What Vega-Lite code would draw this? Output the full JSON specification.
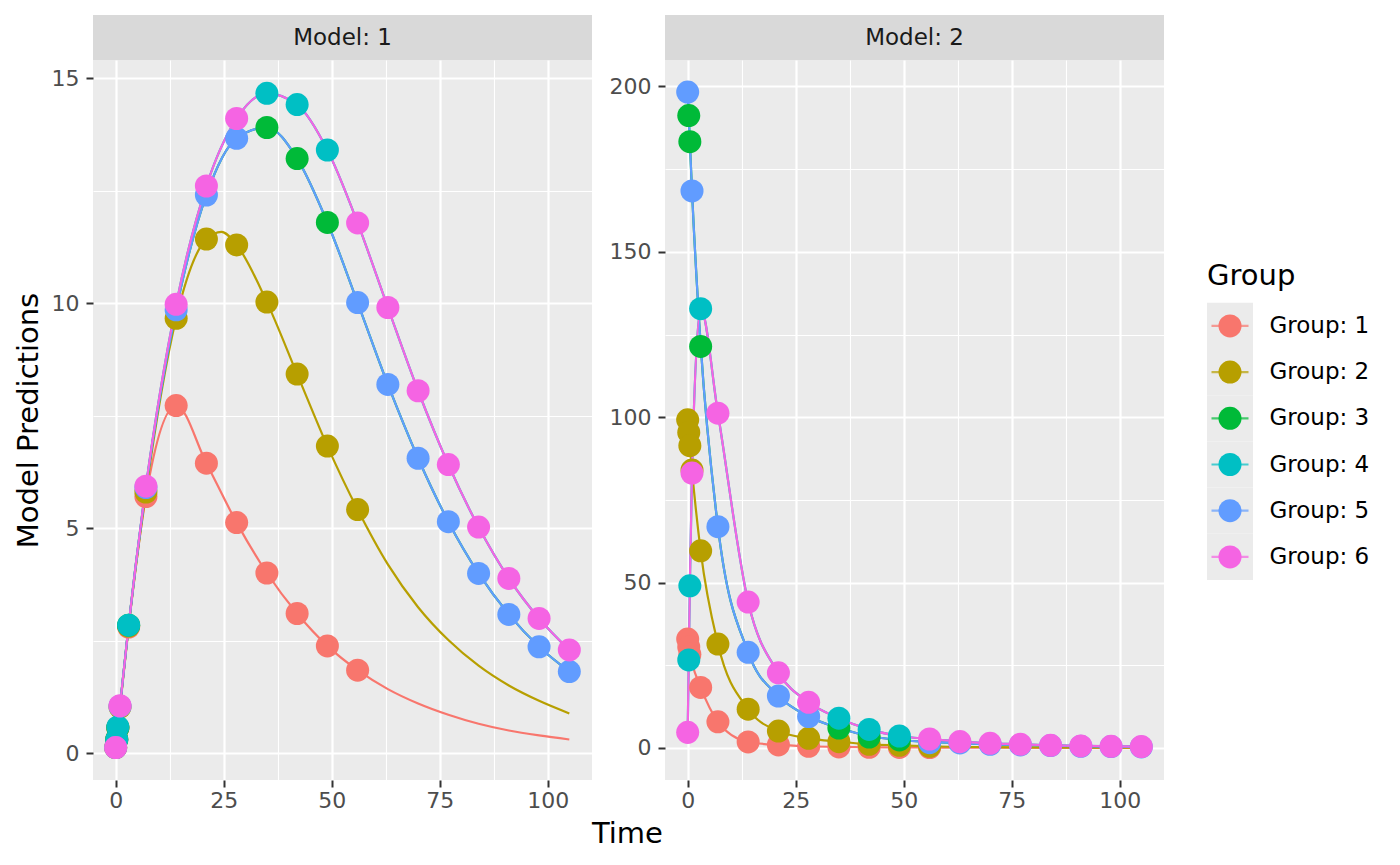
{
  "$schema": "https://vega.github.io/schema/vega-lite/v6.json",
  "padding": {"left": 14, "top": 15, "right": 5, "bottom": 5},
  "background": "white",
  "title": {"text": "Time", "orient": "bottom", "anchor": "middle", "fontSize": 29, "fontWeight": "normal", "color": "#000000", "dx": -64, "offset": 9},
  "datasets": {
    "strips": [{"model": 1, "label": "Model: 1"}, {"model": 2, "label": "Model: 2"}],
    "keys": [
      {"kind": "title", "group": "Group"},
      {"kind": "key", "group": "Group: 1"},
      {"kind": "key", "group": "Group: 2"},
      {"kind": "key", "group": "Group: 3"},
      {"kind": "key", "group": "Group: 4"},
      {"kind": "key", "group": "Group: 5"},
      {"kind": "key", "group": "Group: 6"}
    ],
    "obs": [
      {"model": 1, "group": "Group: 1", "time": 0, "value": 0.12},
      {"model": 1, "group": "Group: 1", "time": 0.25, "value": 0.3},
      {"model": 1, "group": "Group: 1", "time": 0.5, "value": 0.56},
      {"model": 1, "group": "Group: 1", "time": 3, "value": 2.8},
      {"model": 1, "group": "Group: 1", "time": 7, "value": 5.7},
      {"model": 1, "group": "Group: 1", "time": 14, "value": 7.72},
      {"model": 1, "group": "Group: 1", "time": 21, "value": 6.44},
      {"model": 1, "group": "Group: 1", "time": 28, "value": 5.12},
      {"model": 1, "group": "Group: 1", "time": 35, "value": 4.0},
      {"model": 1, "group": "Group: 1", "time": 42, "value": 3.1},
      {"model": 1, "group": "Group: 1", "time": 49, "value": 2.38},
      {"model": 1, "group": "Group: 1", "time": 56, "value": 1.84},
      {"model": 1, "group": "Group: 2", "time": 0, "value": 0.12},
      {"model": 1, "group": "Group: 2", "time": 0.25, "value": 0.3},
      {"model": 1, "group": "Group: 2", "time": 0.5, "value": 0.56},
      {"model": 1, "group": "Group: 2", "time": 1, "value": 1.02},
      {"model": 1, "group": "Group: 2", "time": 3, "value": 2.82},
      {"model": 1, "group": "Group: 2", "time": 7, "value": 5.8},
      {"model": 1, "group": "Group: 2", "time": 14, "value": 9.66},
      {"model": 1, "group": "Group: 2", "time": 21, "value": 11.42},
      {"model": 1, "group": "Group: 2", "time": 28, "value": 11.29},
      {"model": 1, "group": "Group: 2", "time": 35, "value": 10.02},
      {"model": 1, "group": "Group: 2", "time": 42, "value": 8.42},
      {"model": 1, "group": "Group: 2", "time": 49, "value": 6.82},
      {"model": 1, "group": "Group: 2", "time": 56, "value": 5.41},
      {"model": 1, "group": "Group: 3", "time": 0.25, "value": 0.3},
      {"model": 1, "group": "Group: 3", "time": 0.5, "value": 0.56},
      {"model": 1, "group": "Group: 3", "time": 3, "value": 2.84},
      {"model": 1, "group": "Group: 3", "time": 35, "value": 13.9},
      {"model": 1, "group": "Group: 3", "time": 42, "value": 13.21},
      {"model": 1, "group": "Group: 3", "time": 49, "value": 11.79},
      {"model": 1, "group": "Group: 4", "time": 0.25, "value": 0.3},
      {"model": 1, "group": "Group: 4", "time": 0.5, "value": 0.58},
      {"model": 1, "group": "Group: 4", "time": 3, "value": 2.84},
      {"model": 1, "group": "Group: 4", "time": 35, "value": 14.66},
      {"model": 1, "group": "Group: 4", "time": 42, "value": 14.41},
      {"model": 1, "group": "Group: 4", "time": 49, "value": 13.4},
      {"model": 1, "group": "Group: 5", "time": 0, "value": 0.12},
      {"model": 1, "group": "Group: 5", "time": 1, "value": 1.04},
      {"model": 1, "group": "Group: 5", "time": 7, "value": 5.9},
      {"model": 1, "group": "Group: 5", "time": 14, "value": 9.85},
      {"model": 1, "group": "Group: 5", "time": 21, "value": 12.4},
      {"model": 1, "group": "Group: 5", "time": 28, "value": 13.66},
      {"model": 1, "group": "Group: 5", "time": 56, "value": 10.01},
      {"model": 1, "group": "Group: 5", "time": 63, "value": 8.19},
      {"model": 1, "group": "Group: 5", "time": 70, "value": 6.55},
      {"model": 1, "group": "Group: 5", "time": 77, "value": 5.14},
      {"model": 1, "group": "Group: 5", "time": 84, "value": 3.99},
      {"model": 1, "group": "Group: 5", "time": 91, "value": 3.08},
      {"model": 1, "group": "Group: 5", "time": 98, "value": 2.36},
      {"model": 1, "group": "Group: 5", "time": 105, "value": 1.81},
      {"model": 1, "group": "Group: 6", "time": 0, "value": 0.12},
      {"model": 1, "group": "Group: 6", "time": 1, "value": 1.05},
      {"model": 1, "group": "Group: 6", "time": 7, "value": 5.93},
      {"model": 1, "group": "Group: 6", "time": 14, "value": 9.97},
      {"model": 1, "group": "Group: 6", "time": 21, "value": 12.6},
      {"model": 1, "group": "Group: 6", "time": 28, "value": 14.1},
      {"model": 1, "group": "Group: 6", "time": 56, "value": 11.78},
      {"model": 1, "group": "Group: 6", "time": 63, "value": 9.9},
      {"model": 1, "group": "Group: 6", "time": 70, "value": 8.05},
      {"model": 1, "group": "Group: 6", "time": 77, "value": 6.41},
      {"model": 1, "group": "Group: 6", "time": 84, "value": 5.02},
      {"model": 1, "group": "Group: 6", "time": 91, "value": 3.88},
      {"model": 1, "group": "Group: 6", "time": 98, "value": 2.99},
      {"model": 1, "group": "Group: 6", "time": 105, "value": 2.29},
      {"model": 2, "group": "Group: 1", "time": 0, "value": 32.9},
      {"model": 2, "group": "Group: 1", "time": 0.25, "value": 30.5},
      {"model": 2, "group": "Group: 1", "time": 0.5, "value": 28.3},
      {"model": 2, "group": "Group: 1", "time": 3, "value": 18.3},
      {"model": 2, "group": "Group: 1", "time": 7, "value": 7.9},
      {"model": 2, "group": "Group: 1", "time": 14, "value": 1.8},
      {"model": 2, "group": "Group: 1", "time": 21, "value": 0.9},
      {"model": 2, "group": "Group: 1", "time": 28, "value": 0.5},
      {"model": 2, "group": "Group: 1", "time": 35, "value": 0.3},
      {"model": 2, "group": "Group: 1", "time": 42, "value": 0.2},
      {"model": 2, "group": "Group: 1", "time": 49, "value": 0.15},
      {"model": 2, "group": "Group: 1", "time": 56, "value": 0.1},
      {"model": 2, "group": "Group: 2", "time": 0, "value": 99.2},
      {"model": 2, "group": "Group: 2", "time": 0.25, "value": 95.4},
      {"model": 2, "group": "Group: 2", "time": 0.5, "value": 91.4},
      {"model": 2, "group": "Group: 2", "time": 1, "value": 84.0},
      {"model": 2, "group": "Group: 2", "time": 3, "value": 59.6},
      {"model": 2, "group": "Group: 2", "time": 7, "value": 31.4},
      {"model": 2, "group": "Group: 2", "time": 14, "value": 11.7},
      {"model": 2, "group": "Group: 2", "time": 21, "value": 5.1},
      {"model": 2, "group": "Group: 2", "time": 28, "value": 2.9},
      {"model": 2, "group": "Group: 2", "time": 35, "value": 1.9},
      {"model": 2, "group": "Group: 2", "time": 42, "value": 1.1},
      {"model": 2, "group": "Group: 2", "time": 49, "value": 0.8},
      {"model": 2, "group": "Group: 2", "time": 56, "value": 0.5},
      {"model": 2, "group": "Group: 3", "time": 0.25, "value": 191.2},
      {"model": 2, "group": "Group: 3", "time": 0.5, "value": 183.3},
      {"model": 2, "group": "Group: 3", "time": 3, "value": 121.4},
      {"model": 2, "group": "Group: 3", "time": 35, "value": 6.0},
      {"model": 2, "group": "Group: 3", "time": 42, "value": 3.3},
      {"model": 2, "group": "Group: 3", "time": 49, "value": 2.4},
      {"model": 2, "group": "Group: 4", "time": 0.25, "value": 26.6},
      {"model": 2, "group": "Group: 4", "time": 0.5, "value": 49.0},
      {"model": 2, "group": "Group: 4", "time": 3, "value": 132.8},
      {"model": 2, "group": "Group: 4", "time": 35, "value": 9.0},
      {"model": 2, "group": "Group: 4", "time": 42, "value": 5.6},
      {"model": 2, "group": "Group: 4", "time": 49, "value": 3.6},
      {"model": 2, "group": "Group: 5", "time": 0, "value": 198.3},
      {"model": 2, "group": "Group: 5", "time": 1, "value": 168.4},
      {"model": 2, "group": "Group: 5", "time": 7, "value": 66.9},
      {"model": 2, "group": "Group: 5", "time": 14, "value": 28.9},
      {"model": 2, "group": "Group: 5", "time": 21, "value": 15.7},
      {"model": 2, "group": "Group: 5", "time": 28, "value": 9.5},
      {"model": 2, "group": "Group: 5", "time": 56, "value": 1.6},
      {"model": 2, "group": "Group: 5", "time": 63, "value": 1.5},
      {"model": 2, "group": "Group: 5", "time": 70, "value": 1.1},
      {"model": 2, "group": "Group: 5", "time": 77, "value": 0.9},
      {"model": 2, "group": "Group: 5", "time": 84, "value": 0.7},
      {"model": 2, "group": "Group: 5", "time": 91, "value": 0.5},
      {"model": 2, "group": "Group: 5", "time": 98, "value": 0.4},
      {"model": 2, "group": "Group: 5", "time": 105, "value": 0.3},
      {"model": 2, "group": "Group: 6", "time": 0, "value": 4.7},
      {"model": 2, "group": "Group: 6", "time": 1, "value": 83.1},
      {"model": 2, "group": "Group: 6", "time": 7, "value": 101.2},
      {"model": 2, "group": "Group: 6", "time": 14, "value": 44.1},
      {"model": 2, "group": "Group: 6", "time": 21, "value": 22.7},
      {"model": 2, "group": "Group: 6", "time": 28, "value": 13.8},
      {"model": 2, "group": "Group: 6", "time": 56, "value": 2.7},
      {"model": 2, "group": "Group: 6", "time": 63, "value": 1.9},
      {"model": 2, "group": "Group: 6", "time": 70, "value": 1.4},
      {"model": 2, "group": "Group: 6", "time": 77, "value": 1.1},
      {"model": 2, "group": "Group: 6", "time": 84, "value": 0.8},
      {"model": 2, "group": "Group: 6", "time": 91, "value": 0.6},
      {"model": 2, "group": "Group: 6", "time": 98, "value": 0.5},
      {"model": 2, "group": "Group: 6", "time": 105, "value": 0.4}
    ],
    "pred": [
      {"model": 1, "group": "Group: 1", "time": 0, "value": 0.12},
      {"model": 1, "group": "Group: 1", "time": 1, "value": 1.0},
      {"model": 1, "group": "Group: 1", "time": 3, "value": 2.8},
      {"model": 1, "group": "Group: 1", "time": 7, "value": 5.7},
      {"model": 1, "group": "Group: 1", "time": 14, "value": 7.72},
      {"model": 1, "group": "Group: 1", "time": 21, "value": 6.44},
      {"model": 1, "group": "Group: 1", "time": 28, "value": 5.12},
      {"model": 1, "group": "Group: 1", "time": 35, "value": 4.0},
      {"model": 1, "group": "Group: 1", "time": 42, "value": 3.1},
      {"model": 1, "group": "Group: 1", "time": 49, "value": 2.38},
      {"model": 1, "group": "Group: 1", "time": 56, "value": 1.84},
      {"model": 1, "group": "Group: 1", "time": 63, "value": 1.42},
      {"model": 1, "group": "Group: 1", "time": 70, "value": 1.1},
      {"model": 1, "group": "Group: 1", "time": 77, "value": 0.85},
      {"model": 1, "group": "Group: 1", "time": 84, "value": 0.65},
      {"model": 1, "group": "Group: 1", "time": 91, "value": 0.5},
      {"model": 1, "group": "Group: 1", "time": 98, "value": 0.39},
      {"model": 1, "group": "Group: 1", "time": 105, "value": 0.3},
      {"model": 1, "group": "Group: 2", "time": 0, "value": 0.12},
      {"model": 1, "group": "Group: 2", "time": 1, "value": 1.02},
      {"model": 1, "group": "Group: 2", "time": 3, "value": 2.82},
      {"model": 1, "group": "Group: 2", "time": 7, "value": 5.8},
      {"model": 1, "group": "Group: 2", "time": 14, "value": 9.66},
      {"model": 1, "group": "Group: 2", "time": 21, "value": 11.42},
      {"model": 1, "group": "Group: 2", "time": 24.5, "value": 11.58},
      {"model": 1, "group": "Group: 2", "time": 28, "value": 11.29},
      {"model": 1, "group": "Group: 2", "time": 35, "value": 10.02},
      {"model": 1, "group": "Group: 2", "time": 42, "value": 8.42},
      {"model": 1, "group": "Group: 2", "time": 49, "value": 6.82},
      {"model": 1, "group": "Group: 2", "time": 56, "value": 5.41},
      {"model": 1, "group": "Group: 2", "time": 63, "value": 4.19},
      {"model": 1, "group": "Group: 2", "time": 70, "value": 3.24},
      {"model": 1, "group": "Group: 2", "time": 77, "value": 2.51},
      {"model": 1, "group": "Group: 2", "time": 84, "value": 1.94},
      {"model": 1, "group": "Group: 2", "time": 91, "value": 1.5},
      {"model": 1, "group": "Group: 2", "time": 98, "value": 1.16},
      {"model": 1, "group": "Group: 2", "time": 105, "value": 0.88},
      {"model": 1, "group": "Group: 3", "time": 0, "value": 0.12},
      {"model": 1, "group": "Group: 3", "time": 1, "value": 1.04},
      {"model": 1, "group": "Group: 3", "time": 3, "value": 2.84},
      {"model": 1, "group": "Group: 3", "time": 7, "value": 5.9},
      {"model": 1, "group": "Group: 3", "time": 14, "value": 9.85},
      {"model": 1, "group": "Group: 3", "time": 21, "value": 12.4},
      {"model": 1, "group": "Group: 3", "time": 28, "value": 13.66},
      {"model": 1, "group": "Group: 3", "time": 35, "value": 13.9},
      {"model": 1, "group": "Group: 3", "time": 42, "value": 13.21},
      {"model": 1, "group": "Group: 3", "time": 49, "value": 11.79},
      {"model": 1, "group": "Group: 3", "time": 56, "value": 10.01},
      {"model": 1, "group": "Group: 3", "time": 63, "value": 8.19},
      {"model": 1, "group": "Group: 3", "time": 70, "value": 6.55},
      {"model": 1, "group": "Group: 3", "time": 77, "value": 5.14},
      {"model": 1, "group": "Group: 3", "time": 84, "value": 3.99},
      {"model": 1, "group": "Group: 3", "time": 91, "value": 3.08},
      {"model": 1, "group": "Group: 3", "time": 98, "value": 2.36},
      {"model": 1, "group": "Group: 3", "time": 105, "value": 1.81},
      {"model": 1, "group": "Group: 4", "time": 0, "value": 0.12},
      {"model": 1, "group": "Group: 4", "time": 1, "value": 1.05},
      {"model": 1, "group": "Group: 4", "time": 3, "value": 2.84},
      {"model": 1, "group": "Group: 4", "time": 7, "value": 5.93},
      {"model": 1, "group": "Group: 4", "time": 14, "value": 9.97},
      {"model": 1, "group": "Group: 4", "time": 21, "value": 12.6},
      {"model": 1, "group": "Group: 4", "time": 28, "value": 14.1},
      {"model": 1, "group": "Group: 4", "time": 35, "value": 14.66},
      {"model": 1, "group": "Group: 4", "time": 42, "value": 14.41},
      {"model": 1, "group": "Group: 4", "time": 49, "value": 13.4},
      {"model": 1, "group": "Group: 4", "time": 56, "value": 11.78},
      {"model": 1, "group": "Group: 4", "time": 63, "value": 9.9},
      {"model": 1, "group": "Group: 4", "time": 70, "value": 8.05},
      {"model": 1, "group": "Group: 4", "time": 77, "value": 6.41},
      {"model": 1, "group": "Group: 4", "time": 84, "value": 5.02},
      {"model": 1, "group": "Group: 4", "time": 91, "value": 3.88},
      {"model": 1, "group": "Group: 4", "time": 98, "value": 2.99},
      {"model": 1, "group": "Group: 4", "time": 105, "value": 2.29},
      {"model": 1, "group": "Group: 5", "time": 0, "value": 0.12},
      {"model": 1, "group": "Group: 5", "time": 1, "value": 1.04},
      {"model": 1, "group": "Group: 5", "time": 3, "value": 2.84},
      {"model": 1, "group": "Group: 5", "time": 7, "value": 5.9},
      {"model": 1, "group": "Group: 5", "time": 14, "value": 9.85},
      {"model": 1, "group": "Group: 5", "time": 21, "value": 12.4},
      {"model": 1, "group": "Group: 5", "time": 28, "value": 13.66},
      {"model": 1, "group": "Group: 5", "time": 35, "value": 13.9},
      {"model": 1, "group": "Group: 5", "time": 42, "value": 13.21},
      {"model": 1, "group": "Group: 5", "time": 49, "value": 11.79},
      {"model": 1, "group": "Group: 5", "time": 56, "value": 10.01},
      {"model": 1, "group": "Group: 5", "time": 63, "value": 8.19},
      {"model": 1, "group": "Group: 5", "time": 70, "value": 6.55},
      {"model": 1, "group": "Group: 5", "time": 77, "value": 5.14},
      {"model": 1, "group": "Group: 5", "time": 84, "value": 3.99},
      {"model": 1, "group": "Group: 5", "time": 91, "value": 3.08},
      {"model": 1, "group": "Group: 5", "time": 98, "value": 2.36},
      {"model": 1, "group": "Group: 5", "time": 105, "value": 1.81},
      {"model": 1, "group": "Group: 6", "time": 0, "value": 0.12},
      {"model": 1, "group": "Group: 6", "time": 1, "value": 1.05},
      {"model": 1, "group": "Group: 6", "time": 3, "value": 2.84},
      {"model": 1, "group": "Group: 6", "time": 7, "value": 5.93},
      {"model": 1, "group": "Group: 6", "time": 14, "value": 9.97},
      {"model": 1, "group": "Group: 6", "time": 21, "value": 12.6},
      {"model": 1, "group": "Group: 6", "time": 28, "value": 14.1},
      {"model": 1, "group": "Group: 6", "time": 35, "value": 14.66},
      {"model": 1, "group": "Group: 6", "time": 42, "value": 14.41},
      {"model": 1, "group": "Group: 6", "time": 49, "value": 13.4},
      {"model": 1, "group": "Group: 6", "time": 56, "value": 11.78},
      {"model": 1, "group": "Group: 6", "time": 63, "value": 9.9},
      {"model": 1, "group": "Group: 6", "time": 70, "value": 8.05},
      {"model": 1, "group": "Group: 6", "time": 77, "value": 6.41},
      {"model": 1, "group": "Group: 6", "time": 84, "value": 5.02},
      {"model": 1, "group": "Group: 6", "time": 91, "value": 3.88},
      {"model": 1, "group": "Group: 6", "time": 98, "value": 2.99},
      {"model": 1, "group": "Group: 6", "time": 105, "value": 2.29},
      {"model": 2, "group": "Group: 1", "time": 0, "value": 32.9},
      {"model": 2, "group": "Group: 1", "time": 0.25, "value": 30.5},
      {"model": 2, "group": "Group: 1", "time": 0.5, "value": 28.3},
      {"model": 2, "group": "Group: 1", "time": 1, "value": 25.6},
      {"model": 2, "group": "Group: 1", "time": 3, "value": 18.3},
      {"model": 2, "group": "Group: 1", "time": 7, "value": 7.9},
      {"model": 2, "group": "Group: 1", "time": 14, "value": 1.8},
      {"model": 2, "group": "Group: 1", "time": 21, "value": 0.9},
      {"model": 2, "group": "Group: 1", "time": 28, "value": 0.5},
      {"model": 2, "group": "Group: 1", "time": 35, "value": 0.3},
      {"model": 2, "group": "Group: 1", "time": 42, "value": 0.2},
      {"model": 2, "group": "Group: 1", "time": 49, "value": 0.15},
      {"model": 2, "group": "Group: 1", "time": 56, "value": 0.1},
      {"model": 2, "group": "Group: 1", "time": 70, "value": 0.06},
      {"model": 2, "group": "Group: 1", "time": 84, "value": 0.04},
      {"model": 2, "group": "Group: 1", "time": 105, "value": 0.02},
      {"model": 2, "group": "Group: 2", "time": 0, "value": 99.2},
      {"model": 2, "group": "Group: 2", "time": 0.25, "value": 95.4},
      {"model": 2, "group": "Group: 2", "time": 0.5, "value": 91.4},
      {"model": 2, "group": "Group: 2", "time": 1, "value": 84.0},
      {"model": 2, "group": "Group: 2", "time": 3, "value": 59.6},
      {"model": 2, "group": "Group: 2", "time": 7, "value": 31.4},
      {"model": 2, "group": "Group: 2", "time": 14, "value": 11.7},
      {"model": 2, "group": "Group: 2", "time": 21, "value": 5.1},
      {"model": 2, "group": "Group: 2", "time": 28, "value": 2.9},
      {"model": 2, "group": "Group: 2", "time": 35, "value": 1.9},
      {"model": 2, "group": "Group: 2", "time": 42, "value": 1.1},
      {"model": 2, "group": "Group: 2", "time": 49, "value": 0.8},
      {"model": 2, "group": "Group: 2", "time": 56, "value": 0.5},
      {"model": 2, "group": "Group: 2", "time": 70, "value": 0.25},
      {"model": 2, "group": "Group: 2", "time": 84, "value": 0.13},
      {"model": 2, "group": "Group: 2", "time": 105, "value": 0.05},
      {"model": 2, "group": "Group: 3", "time": 0, "value": 198.3},
      {"model": 2, "group": "Group: 3", "time": 0.25, "value": 191.2},
      {"model": 2, "group": "Group: 3", "time": 0.5, "value": 183.3},
      {"model": 2, "group": "Group: 3", "time": 1, "value": 168.4},
      {"model": 2, "group": "Group: 3", "time": 3, "value": 122.0},
      {"model": 2, "group": "Group: 3", "time": 7, "value": 66.9},
      {"model": 2, "group": "Group: 3", "time": 14, "value": 28.9},
      {"model": 2, "group": "Group: 3", "time": 21, "value": 15.7},
      {"model": 2, "group": "Group: 3", "time": 28, "value": 9.5},
      {"model": 2, "group": "Group: 3", "time": 35, "value": 6.0},
      {"model": 2, "group": "Group: 3", "time": 42, "value": 3.6},
      {"model": 2, "group": "Group: 3", "time": 49, "value": 2.4},
      {"model": 2, "group": "Group: 3", "time": 56, "value": 1.8},
      {"model": 2, "group": "Group: 3", "time": 63, "value": 1.5},
      {"model": 2, "group": "Group: 3", "time": 70, "value": 1.1},
      {"model": 2, "group": "Group: 3", "time": 77, "value": 0.9},
      {"model": 2, "group": "Group: 3", "time": 84, "value": 0.7},
      {"model": 2, "group": "Group: 3", "time": 91, "value": 0.5},
      {"model": 2, "group": "Group: 3", "time": 98, "value": 0.4},
      {"model": 2, "group": "Group: 3", "time": 105, "value": 0.3},
      {"model": 2, "group": "Group: 4", "time": 0, "value": 4.7},
      {"model": 2, "group": "Group: 4", "time": 0.25, "value": 26.6},
      {"model": 2, "group": "Group: 4", "time": 0.5, "value": 49.0},
      {"model": 2, "group": "Group: 4", "time": 1, "value": 83.1},
      {"model": 2, "group": "Group: 4", "time": 3, "value": 132.8},
      {"model": 2, "group": "Group: 4", "time": 7, "value": 101.2},
      {"model": 2, "group": "Group: 4", "time": 14, "value": 44.1},
      {"model": 2, "group": "Group: 4", "time": 21, "value": 22.7},
      {"model": 2, "group": "Group: 4", "time": 28, "value": 13.8},
      {"model": 2, "group": "Group: 4", "time": 35, "value": 9.0},
      {"model": 2, "group": "Group: 4", "time": 42, "value": 5.6},
      {"model": 2, "group": "Group: 4", "time": 49, "value": 3.6},
      {"model": 2, "group": "Group: 4", "time": 56, "value": 2.7},
      {"model": 2, "group": "Group: 4", "time": 63, "value": 1.9},
      {"model": 2, "group": "Group: 4", "time": 70, "value": 1.4},
      {"model": 2, "group": "Group: 4", "time": 77, "value": 1.1},
      {"model": 2, "group": "Group: 4", "time": 84, "value": 0.8},
      {"model": 2, "group": "Group: 4", "time": 91, "value": 0.6},
      {"model": 2, "group": "Group: 4", "time": 98, "value": 0.5},
      {"model": 2, "group": "Group: 4", "time": 105, "value": 0.4},
      {"model": 2, "group": "Group: 5", "time": 0, "value": 198.3},
      {"model": 2, "group": "Group: 5", "time": 0.25, "value": 191.2},
      {"model": 2, "group": "Group: 5", "time": 0.5, "value": 183.3},
      {"model": 2, "group": "Group: 5", "time": 1, "value": 168.4},
      {"model": 2, "group": "Group: 5", "time": 3, "value": 122.0},
      {"model": 2, "group": "Group: 5", "time": 7, "value": 66.9},
      {"model": 2, "group": "Group: 5", "time": 14, "value": 28.9},
      {"model": 2, "group": "Group: 5", "time": 21, "value": 15.7},
      {"model": 2, "group": "Group: 5", "time": 28, "value": 9.5},
      {"model": 2, "group": "Group: 5", "time": 35, "value": 6.0},
      {"model": 2, "group": "Group: 5", "time": 42, "value": 3.6},
      {"model": 2, "group": "Group: 5", "time": 49, "value": 2.4},
      {"model": 2, "group": "Group: 5", "time": 56, "value": 1.8},
      {"model": 2, "group": "Group: 5", "time": 63, "value": 1.5},
      {"model": 2, "group": "Group: 5", "time": 70, "value": 1.1},
      {"model": 2, "group": "Group: 5", "time": 77, "value": 0.9},
      {"model": 2, "group": "Group: 5", "time": 84, "value": 0.7},
      {"model": 2, "group": "Group: 5", "time": 91, "value": 0.5},
      {"model": 2, "group": "Group: 5", "time": 98, "value": 0.4},
      {"model": 2, "group": "Group: 5", "time": 105, "value": 0.3},
      {"model": 2, "group": "Group: 6", "time": 0, "value": 4.7},
      {"model": 2, "group": "Group: 6", "time": 0.25, "value": 26.6},
      {"model": 2, "group": "Group: 6", "time": 0.5, "value": 49.0},
      {"model": 2, "group": "Group: 6", "time": 1, "value": 83.1},
      {"model": 2, "group": "Group: 6", "time": 3, "value": 132.8},
      {"model": 2, "group": "Group: 6", "time": 7, "value": 101.2},
      {"model": 2, "group": "Group: 6", "time": 14, "value": 44.1},
      {"model": 2, "group": "Group: 6", "time": 21, "value": 22.7},
      {"model": 2, "group": "Group: 6", "time": 28, "value": 13.8},
      {"model": 2, "group": "Group: 6", "time": 35, "value": 9.0},
      {"model": 2, "group": "Group: 6", "time": 42, "value": 5.6},
      {"model": 2, "group": "Group: 6", "time": 49, "value": 3.6},
      {"model": 2, "group": "Group: 6", "time": 56, "value": 2.7},
      {"model": 2, "group": "Group: 6", "time": 63, "value": 1.9},
      {"model": 2, "group": "Group: 6", "time": 70, "value": 1.4},
      {"model": 2, "group": "Group: 6", "time": 77, "value": 1.1},
      {"model": 2, "group": "Group: 6", "time": 84, "value": 0.8},
      {"model": 2, "group": "Group: 6", "time": 91, "value": 0.6},
      {"model": 2, "group": "Group: 6", "time": 98, "value": 0.5},
      {"model": 2, "group": "Group: 6", "time": 105, "value": 0.4}
    ]
  },
  "spacing": 43,
  "hconcat": [
    {
      "spacing": 17,
      "hconcat": [
        {
          "spacing": 0,
          "bounds": "flush",
          "vconcat": [
            {
              "data": {"name": "strips"},
              "transform": [{"filter": "datum.model == 1"}],
              "width": 499,
              "height": 45,
              "view": {"fill": "#D9D9D9", "stroke": null},
              "mark": {"type": "text", "fontSize": 23, "color": "#1A1A1A"},
              "encoding": {"text": {"field": "label"}}
            },
            {
              "width": 499,
              "height": 720,
              "view": {"fill": "#EBEBEB", "stroke": null},
              "resolve": {"axis": {"x": "independent", "y": "independent"}},
              "layer": [
                {
                  "data": {"name": "pred"},
                  "transform": [{"filter": "datum.model == 1"}],
                  "mark": {"type": "line", "interpolate": "monotone", "strokeWidth": 2.2},
                  "encoding": {
                    "x": {"field": "time", "type": "quantitative",
                      "scale": {"domain": [-5.25, 110.25], "nice": false, "zero": false},
                      "axis": {"orient": "bottom", "values": [12.5, 37.5, 62.5, 87.5], "grid": true, "gridColor": "#FFFFFF", "gridWidth": 1.1, "labels": false, "ticks": false, "domain": false, "title": null}},
                    "y": {"field": "value", "type": "quantitative",
                      "scale": {"domain": [-0.6, 15.4], "nice": false, "zero": false},
                      "axis": {"orient": "left", "values": [2.5, 7.5, 12.5], "grid": true, "gridColor": "#FFFFFF", "gridWidth": 1.1, "labels": false, "ticks": false, "domain": false, "title": null}},
                    "color": {"field": "group", "type": "nominal",
                      "scale": {"domain": ["Group: 1", "Group: 2", "Group: 3", "Group: 4", "Group: 5", "Group: 6"], "range": ["#F8766D", "#B79F00", "#00BA38", "#00BFC4", "#619CFF", "#F564E3"]},
                      "legend": null}
                  }
                },
                {
                  "data": {"name": "obs"},
                  "transform": [{"filter": "datum.model == 1"}],
                  "mark": {"type": "circle", "size": 530, "opacity": 1},
                  "encoding": {
                    "x": {"field": "time", "type": "quantitative",
                      "scale": {"domain": [-5.25, 110.25], "nice": false, "zero": false},
                      "axis": {"orient": "bottom", "values": [0, 25, 50, 75, 100], "grid": true, "gridColor": "#FFFFFF", "gridWidth": 2.2, "domain": false, "ticks": true, "tickSize": 7, "tickWidth": 2, "tickColor": "#333333", "labelFontSize": 22, "labelColor": "#4D4D4D", "labelPadding": 3, "title": null}},
                    "y": {"field": "value", "type": "quantitative",
                      "scale": {"domain": [-0.6, 15.4], "nice": false, "zero": false},
                      "axis": {"orient": "left", "values": [0, 5, 10, 15], "grid": true, "gridColor": "#FFFFFF", "gridWidth": 2.2, "domain": false, "ticks": true, "tickSize": 7, "tickWidth": 2, "tickColor": "#333333", "labelFontSize": 22, "labelColor": "#4D4D4D", "labelPadding": 7, "title": "Model Predictions", "titleFontSize": 29, "titleFontWeight": "normal", "titleColor": "#000000", "titlePadding": 8}},
                    "color": {"field": "group", "type": "nominal", "legend": null}
                  }
                }
              ]
            }
          ]
        },
        {
          "spacing": 0,
          "bounds": "flush",
          "vconcat": [
            {
              "data": {"name": "strips"},
              "transform": [{"filter": "datum.model == 2"}],
              "width": 499,
              "height": 45,
              "view": {"fill": "#D9D9D9", "stroke": null},
              "mark": {"type": "text", "fontSize": 23, "color": "#1A1A1A"},
              "encoding": {"text": {"field": "label"}}
            },
            {
              "width": 499,
              "height": 720,
              "view": {"fill": "#EBEBEB", "stroke": null},
              "resolve": {"axis": {"x": "independent", "y": "independent"}},
              "layer": [
                {
                  "data": {"name": "pred"},
                  "transform": [{"filter": "datum.model == 2"}],
                  "mark": {"type": "line", "interpolate": "monotone", "strokeWidth": 2.2},
                  "encoding": {
                    "x": {"field": "time", "type": "quantitative",
                      "scale": {"domain": [-5.25, 110.25], "nice": false, "zero": false},
                      "axis": {"orient": "bottom", "values": [12.5, 37.5, 62.5, 87.5], "grid": true, "gridColor": "#FFFFFF", "gridWidth": 1.1, "labels": false, "ticks": false, "domain": false, "title": null}},
                    "y": {"field": "value", "type": "quantitative",
                      "scale": {"domain": [-9.7, 208], "nice": false, "zero": false},
                      "axis": {"orient": "left", "values": [25, 75, 125, 175], "grid": true, "gridColor": "#FFFFFF", "gridWidth": 1.1, "labels": false, "ticks": false, "domain": false, "title": null}},
                    "color": {"field": "group", "type": "nominal",
                      "scale": {"domain": ["Group: 1", "Group: 2", "Group: 3", "Group: 4", "Group: 5", "Group: 6"], "range": ["#F8766D", "#B79F00", "#00BA38", "#00BFC4", "#619CFF", "#F564E3"]},
                      "legend": null}
                  }
                },
                {
                  "data": {"name": "obs"},
                  "transform": [{"filter": "datum.model == 2"}],
                  "mark": {"type": "circle", "size": 530, "opacity": 1},
                  "encoding": {
                    "x": {"field": "time", "type": "quantitative",
                      "scale": {"domain": [-5.25, 110.25], "nice": false, "zero": false},
                      "axis": {"orient": "bottom", "values": [0, 25, 50, 75, 100], "grid": true, "gridColor": "#FFFFFF", "gridWidth": 2.2, "domain": false, "ticks": true, "tickSize": 7, "tickWidth": 2, "tickColor": "#333333", "labelFontSize": 22, "labelColor": "#4D4D4D", "labelPadding": 3, "title": null}},
                    "y": {"field": "value", "type": "quantitative",
                      "scale": {"domain": [-9.7, 208], "nice": false, "zero": false},
                      "axis": {"orient": "left", "values": [0, 50, 100, 150, 200], "grid": true, "gridColor": "#FFFFFF", "gridWidth": 2.2, "domain": false, "ticks": true, "tickSize": 7, "tickWidth": 2, "tickColor": "#333333", "labelFontSize": 22, "labelColor": "#4D4D4D", "labelPadding": 7, "title": null}},
                    "color": {"field": "group", "type": "nominal", "legend": null}
                  }
                }
              ]
            }
          ]
        }
      ]
    },
    {
      "data": {"name": "keys"},
      "width": 46,
      "height": 765,
      "layer": [
        {
          "transform": [{"filter": "datum.kind == 'key'"}],
          "mark": {"type": "bar", "color": "#EBEBEB"},
          "encoding": {
            "y": {"field": "group", "type": "nominal",
              "scale": {"type": "band", "domain": ["Group", "Group: 1", "Group: 2", "Group: 3", "Group: 4", "Group: 5", "Group: 6"], "range": [241.6, 565], "paddingInner": 0, "paddingOuter": 0},
              "axis": {"orient": "right", "values": ["Group: 1", "Group: 2", "Group: 3", "Group: 4", "Group: 5", "Group: 6"], "ticks": false, "domain": false, "grid": false, "labelFontSize": 23, "labelColor": "#000000", "labelPadding": 16, "title": null}}
          }
        },
        {
          "transform": [{"filter": "datum.kind == 'key'"}],
          "mark": {"type": "tick", "orient": "horizontal", "size": 37, "thickness": 2.2},
          "encoding": {
            "y": {"field": "group", "type": "nominal"},
            "color": {"field": "group", "type": "nominal", "legend": null}
          }
        },
        {
          "transform": [{"filter": "datum.kind == 'key'"}],
          "mark": {"type": "circle", "size": 530, "opacity": 1},
          "encoding": {
            "y": {"field": "group", "type": "nominal"},
            "color": {"field": "group", "type": "nominal", "legend": null}
          }
        },
        {
          "transform": [{"filter": "datum.kind == 'title'"}],
          "mark": {"type": "text", "align": "left", "dx": -23, "dy": -4, "fontSize": 29, "color": "#000000"},
          "encoding": {
            "y": {"field": "group", "type": "nominal"},
            "text": {"field": "group"}
          }
        }
      ]
    }
  ],
  "config": {
    "font": "DejaVu Sans",
    "view": {"stroke": null}
  }
}
